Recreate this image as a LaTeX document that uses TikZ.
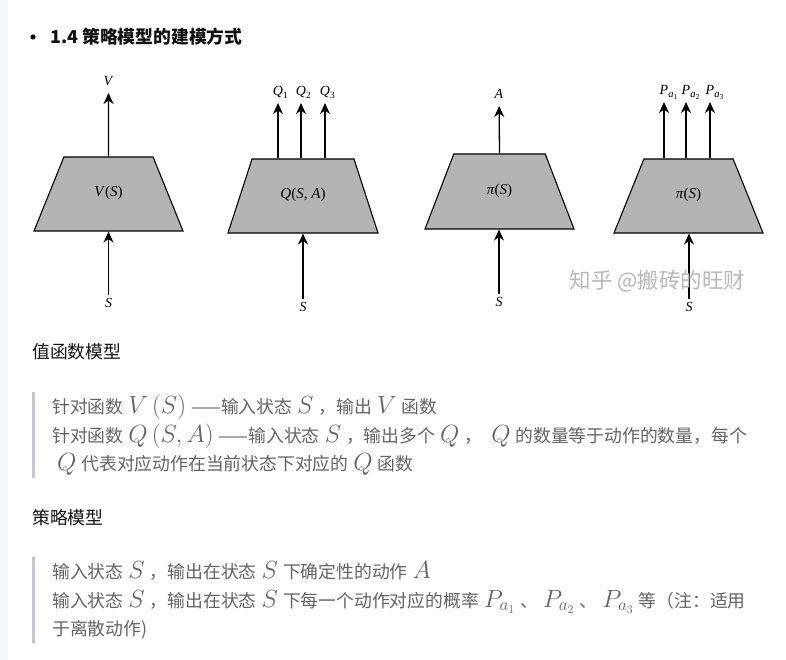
\documentclass[tikz,border=0pt]{standalone}
\usepackage{fontspec}
\usepackage{xcolor}
\usepackage{tikz}
\usetikzlibrary{arrows.meta}
\usetikzlibrary{shapes.geometric}
\newfontfamily\cjk{Noto Sans CJK SC}
\newfontfamily\tms{Liberation Serif}
\definecolor{trapgray}{HTML}{B4B4B4}
\definecolor{quotegray}{HTML}{646464}
\definecolor{bargray}{HTML}{C5C7CC}
\definecolor{sidegray}{HTML}{F6F7F9}
\definecolor{headblack}{HTML}{121212}
\newcommand{\mth}[1]{\hspace{5pt}{\fontsize{23}{27}\selectfont$#1$}\hspace{5pt}}
\newcommand{\qsub}[1]{\rlap{\raisebox{-2.5pt}{\fontsize{9.5}{10}\selectfont #1}}}
\newcommand{\psub}[1]{\rlap{\raisebox{-3pt}{\fontsize{10.5}{11}\selectfont\textit{a}\raisebox{-2pt}{\fontsize{7.5}{8}\selectfont #1}}}}
\tikzset{
    netbox/.style={trapezium, trapezium stretches body, draw=black, line width=1.1pt,
        fill=trapgray, text height=10pt, text depth=4pt, inner xsep=2pt, inner ysep=30pt,
        font=\tms\fontsize{15}{18}\selectfont},
    io/.style={inner sep=0pt, outer sep=0pt, text depth=0pt, font=\tms\fontsize{14}{16}\selectfont},
    flow/.style={line width=1.3pt, -{Stealth[length=11pt,width=10pt,inset=3.5pt]}},
    outflow/.style={flow, shorten >=7pt},
    inflow/.style={flow, shorten <=3pt},
    textline/.style={anchor=base west, inner sep=0pt, font=\cjk\fontsize{17.8}{21}\selectfont},
}

\begin{document}
\begin{tikzpicture}[x=1pt, y=-1pt]
\useasboundingbox (0,0) rectangle (786,660);
\fill[white] (0,0) rectangle (786,660);
\fill[sidegray] (0,0) rectangle (8,660);

% heading
\fill[headblack] (33,37) circle (2.6pt);
\node[textline, text=headblack, font=\cjk\bfseries\fontsize{17.8}{21}\selectfont] (title) at (50,43.5) {1.4 策略模型的建模方式};

% value function V(S)
\node[netbox, trapezium angle=68, minimum width=149pt] (vnet) at (108.5,194) {\textit{V}(\textit{S})};
\node[io, anchor=base] (vout) at (108.5,86) {\textit{V}};
\node[io, anchor=north] (vin) at (108.5,298) {\textit{S}};
\draw[outflow] (vnet.north) -- (vout);
\draw[inflow] (vin) -- (vin |- vnet.south);

% value function Q(S,A)
\node[netbox, trapezium angle=72, minimum width=150pt] (qnet) at (303,196) {\textit{Q}(\textit{S}, \textit{A})};
\foreach \k/\x in {1/278, 2/301, 3/325} {
  \node[io, anchor=base] (q\k) at (\x,96) {\textit{Q}\qsub{\k}};
  \draw[outflow] (q\k |- qnet.north) -- (q\k);
}
\node[io, anchor=north] (qin) at (303,302) {\textit{S}};
\draw[inflow] (qin) -- (qin |- qnet.south);

% deterministic policy
\node[netbox, trapezium angle=69, inner ysep=30.5pt, minimum width=149pt] (anet) at (499.5,191.5) {\textit{π}(\textit{S})};
\node[io, anchor=base] (aout) at (499,99) {\textit{A}};
\node[io, anchor=north] (ain) at (499,297) {\textit{S}};
\draw[outflow] (anet.north) -- (aout);
\draw[inflow] (ain) -- (ain |- anet.south);

% stochastic policy
\node[netbox, trapezium angle=68, minimum width=149pt] (dnet) at (688.5,196) {\textit{π}(\textit{S})};
\foreach \k/\x in {1/664, 2/686, 3/710} {
  \node[io, anchor=base] (p\k) at (\x,95) {\textit{P}\psub{\k}};
  \draw[outflow] (p\k |- dnet.north) -- (p\k);
}
\node[io, anchor=north] (din) at (689,302) {\textit{S}};
\draw[inflow] (din) -- (din |- dnet.south);

% watermark
\node[font=\cjk\fontsize{21.5}{24}\selectfont, text=black!28, inner sep=0pt] (mark) at (657.5,281) {知乎 @搬砖的旺财};

% value models
\node[textline, text=headblack] (valhead) at (32,358.5) {值函数模型};
\fill[bargray] (32,392) rectangle (35,478);
\node[textline, text=quotegray] (val1) at (52,413.5) {针对函数\mth{V\left(S\right)}——输入状态\mth{S}，输出\mth{V}函数};
\node[textline, text=quotegray] (val2) at (52,442) {针对函数\mth{Q\left(S,A\right)}——输入状态\mth{S}，输出多个\mth{Q}， \mth{Q}的数量等于动作的数量，每个};
\node[textline, text=quotegray] (val3) at (52,470.5) {\mth{Q}代表对应动作在当前状态下对应的\mth{Q}函数};

% policy models
\node[textline, text=headblack] (polhead) at (32,524.5) {策略模型};
\fill[bargray] (32,557) rectangle (35,643);
\node[textline, text=quotegray] (pol1) at (52,578.5) {输入状态\mth{S}，输出在状态\mth{S}下确定性的动作\mth{A}};
\node[textline, text=quotegray] (pol2) at (52,607) {输入状态\mth{S}，输出在状态\mth{S}下每一个动作对应的概率\mth{P_{a_1}}、\mth{P_{a_2}}、\mth{P_{a_3}}等（注：适用};
\node[textline, text=quotegray] (pol3) at (52,635.5) {于离散动作)};
\end{tikzpicture}
\end{document}
